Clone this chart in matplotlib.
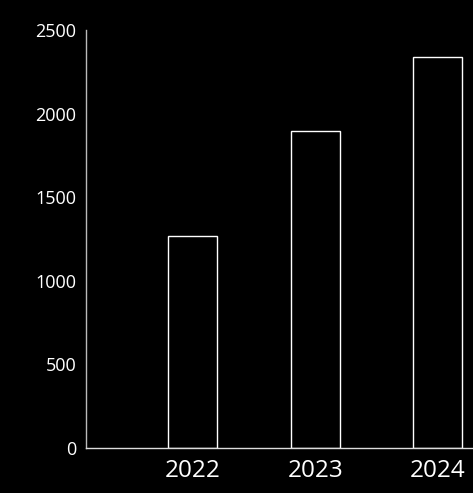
import numpy as np
from matplotlib import pyplot as plt

plt.rcParams['font.family'] = ['Open Sans', 'DejaVu Sans']

years = ['2022', '2023', '2024']
values = [1265, 1895, 2340]
yticks = [0, 500, 1000, 1500, 2000, 2500]

fig = plt.figure(figsize=(4.73, 4.93), dpi=100, facecolor='black')
ax = fig.add_axes([86 / 473, 1 - 448 / 493, 1 - 86 / 473, 418 / 493])
ax.set_facecolor('black')

x = np.arange(len(years))
ax.bar(x, values, width=0.4, color='black', edgecolor='white', linewidth=1.0)

ax.set_xlim(-0.873, 2.29)
ax.set_ylim(0, 2500)
ax.set_yticks(yticks)
ax.set_xticks(x)
ax.set_xticklabels(years, fontsize=17.5, color='white')
ax.set_yticklabels([str(t) for t in yticks], fontsize=13, color='white')
ax.tick_params(axis='x', length=0, pad=8)
ax.tick_params(axis='y', length=0, pad=7)

for side in ['top', 'right']:
    ax.spines[side].set_visible(False)
for side in ['left', 'bottom']:
    ax.spines[side].set_color('#bbbbbb')
    ax.spines[side].set_linewidth(1.0)
ax.spines['bottom'].set_color('#dddddd')

fig.savefig('out.png', dpi=100, facecolor='black')
